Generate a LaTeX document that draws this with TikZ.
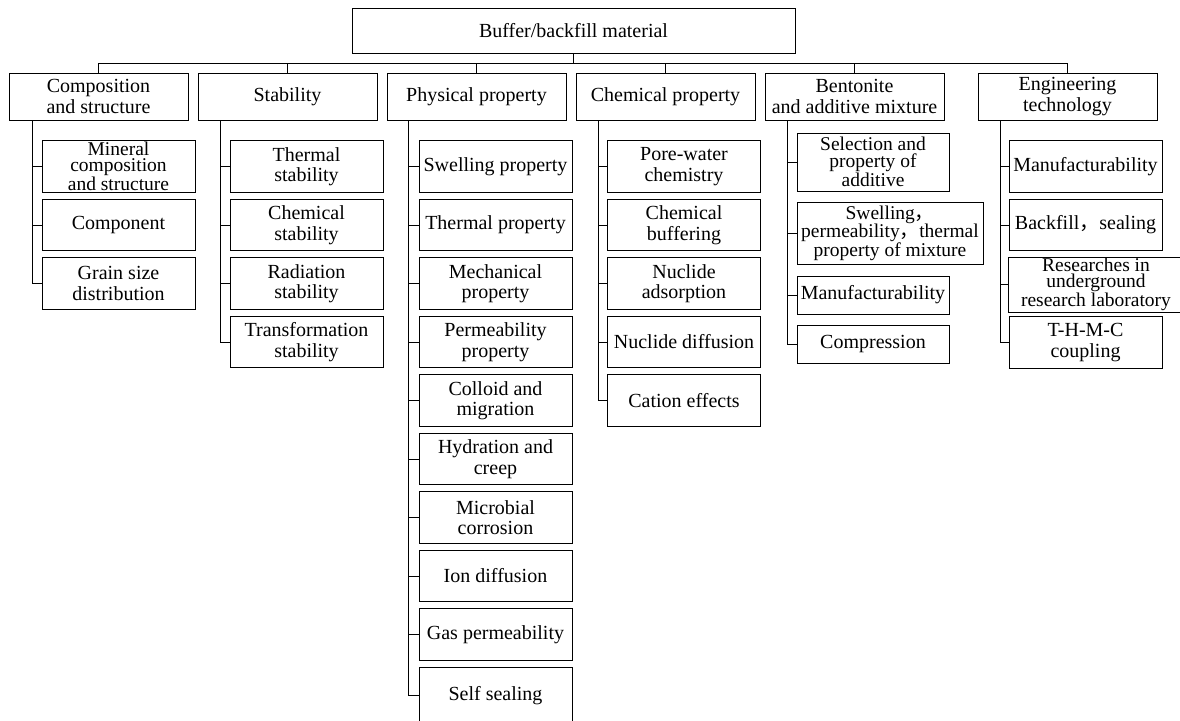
\documentclass[tikz,border=0pt]{standalone}
\usepackage{fontspec}
\setmainfont{Liberation Serif}
\newfontfamily\cjk{Noto Sans CJK SC}
\usetikzlibrary{positioning}

\newcommand{\fwc}{{\cjk ，}}

\begin{document}
\begin{tikzpicture}[
        x = 1pt, y = -1pt,
        box/.style = {
            draw,
            rectangle,
            align = center,
            inner sep = 1pt,
            outer sep = 0pt,
            line width = 0.8pt,
            font = \fontsize{20}{20.5}\selectfont
        },
        cat/.style = {box, minimum width = 179pt, minimum height = 47pt},
        leaf/.style = {box, minimum width = #1, minimum height = 51.5pt},
        leaf/.default = 153pt,
        tight/.style = {font = \fontsize{19.5}{#1}\selectfont},
        tight/.default = 16,
        node distance = {7pt}
    ]
    \useasboundingbox (0,0) rectangle (1180,720);

    \node[box, minimum width = 443pt, minimum height = 45pt] (root) at (573.5,30.5) {Buffer/backfill material};

    % first level
    \node[cat] (comp) at (98.5,96.5) {Composition\\and structure};
    \node[cat, right=10pt of comp] (stab) {Stability};
    \node[cat, right=10pt of stab] (phys) {Physical property};
    \node[cat, right=10pt of phys] (chem) {Chemical property};
    \node[cat, right=10pt of chem] (bent) {Bentonite\\and additive mixture};
    \node[cat, right=34pt of bent] (eng) {Engineering\\technology};

    \draw[line width = 0.8pt] (root.south) -- ++(0,10);
    \draw[line width = 0.8pt] (comp.north) -- ++(0,-10) -| (eng.north);
    \foreach \n in {stab, phys, chem, bent}
        \draw[line width = 0.8pt] (\n.north) -- ++(0,-10);

    % composition and structure
    \node[leaf, tight] (mine) at (118.5,166.5) {Mineral\\composition\\and structure};
    \node[leaf, below=of mine] (cpnt) {Component};
    \node[leaf, below=of cpnt] (grain) {Grain size\\distribution};

    % stability
    \node[leaf] (tsta) at (306.5,166.5) {Thermal\\stability};
    \node[leaf, below=of tsta] (csta) {Chemical\\stability};
    \node[leaf, below=of csta] (rsta) {Radiation\\stability};
    \node[leaf, below=of rsta] (fsta) {Transformation\\stability};

    % physical property
    \node[leaf] (swel) at (495.5,166.5) {Swelling property};
    \node[leaf, below=of swel] (ther) {Thermal property};
    \node[leaf, below=of ther] (mech) {Mechanical\\property};
    \node[leaf, below=of mech] (perm) {Permeability\\property};
    \node[leaf, below=of perm] (coll) {Colloid and\\migration};
    \node[leaf, below=of coll] (hydr) {Hydration and\\creep};
    \node[leaf, below=of hydr] (micr) {Microbial\\corrosion};
    \node[leaf, below=of micr] (iond) {Ion diffusion};
    \node[leaf, below=of iond] (gasp) {Gas permeability};
    \node[leaf, below=of gasp, minimum height = 56pt] (self) {Self sealing};

    % chemical property
    \node[leaf] (pore) at (684,166.5) {Pore-water\\chemistry};
    \node[leaf, below=of pore] (cbuf) {Chemical\\buffering};
    \node[leaf, below=of cbuf] (nads) {Nuclide\\adsorption};
    \node[leaf, below=of nads] (ndif) {Nuclide diffusion};
    \node[leaf, below=of ndif] (cati) {Cation effects};

    % bentonite and additive mixture
    \node[leaf=152pt, tight=17, minimum height = 58pt] (asel) at (873,162) {Selection and\\property of\\additive};
    \node[leaf=186pt, tight=18.5, minimum height = 62pt] (amix) at (890,233) {Swelling\fwc\\permeability\fwc thermal\\property of mixture};
    \node[leaf=152pt, minimum height = 38pt] (aman) at (873,295) {Manufacturability};
    \node[leaf=152pt, minimum height = 38pt] (acmp) at (873,344) {Compression};

    % engineering technology
    \node[leaf] (eman) at (1085.5,166.5) {Manufacturability};
    \node[leaf, below=of eman] (ebac) {Backfill\fwc sealing};
    \node[leaf=176pt, tight, minimum height = 55pt] (eurl) at (1096,284.5) {Researches in\\underground\\research laboratory};
    \node[leaf] (ethm) at (1085.5,342.5) {T-H-M-C\\coupling};

    % trunks
    \coordinate (t1) at ([xshift=-10pt]mine.west);
    \coordinate (t2) at ([xshift=-10pt]tsta.west);
    \coordinate (t3) at ([xshift=-11pt]swel.west);
    \coordinate (t4) at ([xshift=-9pt]pore.west);
    \coordinate (t5) at ([xshift=-10pt]asel.west);
    \coordinate (t6) at ([xshift=-9pt]eman.west);

    \draw[line width = 0.8pt] (t1 |- comp.south) |- (grain.west);
    \draw[line width = 0.8pt] (t2 |- stab.south) |- (fsta.west);
    \draw[line width = 0.8pt] (t3 |- phys.south) |- (self.west);
    \draw[line width = 0.8pt] (t4 |- chem.south) |- (cati.west);
    \draw[line width = 0.8pt] (t5 |- bent.south) |- (acmp.west);
    \draw[line width = 0.8pt] (t6 |- eng.south) |- (ethm.west);

    \foreach \n in {mine, cpnt}
        \draw[line width = 0.8pt] (t1 |- \n.west) -- (\n.west);
    \foreach \n in {tsta, csta, rsta}
        \draw[line width = 0.8pt] (t2 |- \n.west) -- (\n.west);
    \foreach \n in {swel, ther, mech, perm, coll, hydr, micr, iond, gasp}
        \draw[line width = 0.8pt] (t3 |- \n.west) -- (\n.west);
    \foreach \n in {pore, cbuf, nads, ndif}
        \draw[line width = 0.8pt] (t4 |- \n.west) -- (\n.west);
    \foreach \n in {asel, amix, aman}
        \draw[line width = 0.8pt] (t5 |- \n.west) -- (\n.west);
    \foreach \n in {eman, ebac, eurl}
        \draw[line width = 0.8pt] (t6 |- \n.west) -- (\n.west);

\end{tikzpicture}
\end{document}
